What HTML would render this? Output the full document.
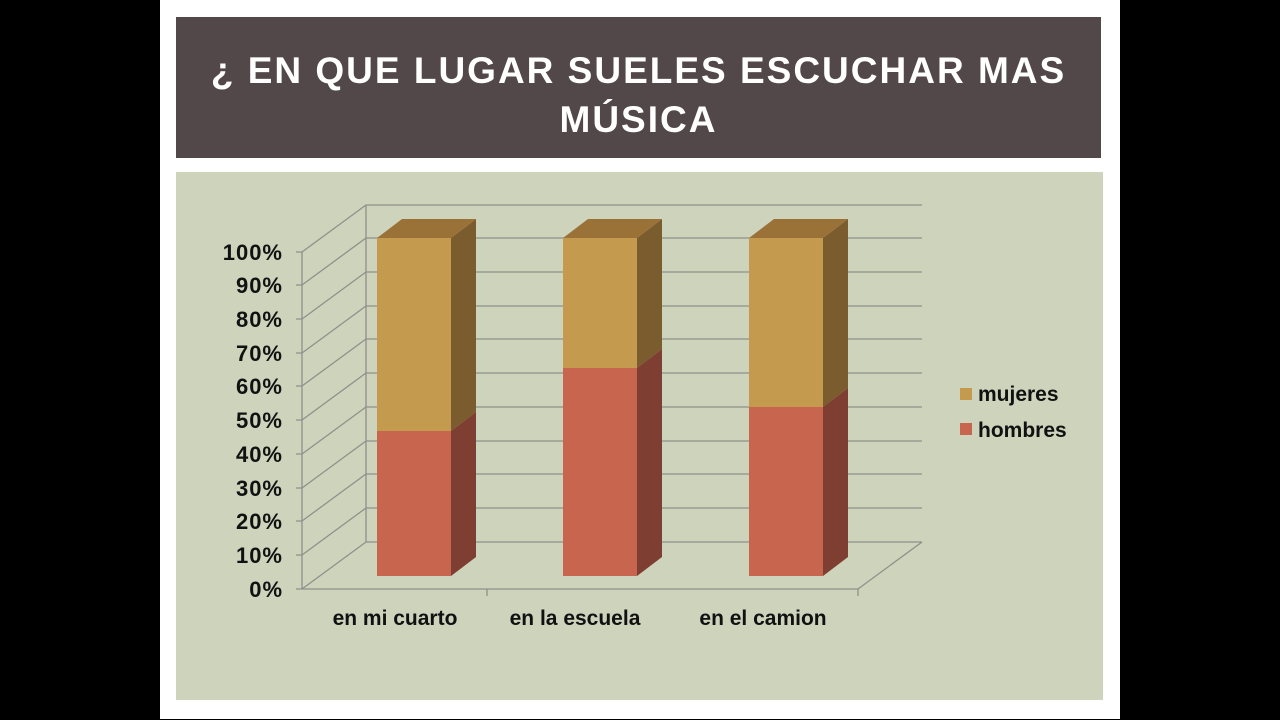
<!DOCTYPE html>
<html><head><meta charset="utf-8"><style>
body{margin:0;background:#000;width:1280px;height:720px;position:relative;overflow:hidden;font-family:"Liberation Sans",sans-serif}
#slide{position:absolute;left:160px;top:0;width:960px;height:719px;background:#fff}
#title{position:absolute;left:176px;top:17px;width:925px;height:141px;background:#524849;color:#fff;font-weight:bold;font-size:37px;letter-spacing:2px;text-align:center;line-height:49px;padding-top:29px;box-sizing:border-box}
#chart{position:absolute;left:176px;top:172px;width:927px;height:528px;background:#CED3BC}
svg{position:absolute;left:0;top:0}
</style></head><body>
<div id="slide"></div>
<div id="title">¿ EN QUE LUGAR SUELES ESCUCHAR MAS<br>MÚSICA</div>
<div id="chart"></div>
<svg width="1280" height="720" font-family="Liberation Sans, sans-serif">
<g stroke="#8E918A" stroke-width="1.3" fill="none">
<path d="M302 589L366 542H922M302 555L366 508H922M302 521L366 474H922M302 488L366 441H922M302 454L366 407H922M302 420L366 373H922M302 386L366 339H922M302 353L366 306H922M302 319L366 272H922M302 285L366 238H922M302 252L366 205H922"/>
<path d="M366 205V542M302 252V589M858 589L922 542M302 589H858"/>
<path d="M296 589H302M296 555H302M296 521H302M296 488H302M296 454H302M296 420H302M296 386H302M296 353H302M296 319H302M296 285H302M296 252H302M487 589V596M858 589V596"/>
</g>
<g>
<polygon points="451,431 476,412 476,219 451,238" fill="#7A5C2E"/>
<polygon points="451,576 476,557 476,412 451,431" fill="#7E3E31"/>
<polygon points="377,238 402,219 476,219 451,238" fill="#9A7238"/>
<rect x="377" y="238" width="74" height="193" fill="#C49A4F"/>
<rect x="377" y="431" width="74" height="145" fill="#C8654E"/>
<polygon points="637,368 662,349 662,219 637,238" fill="#7A5C2E"/>
<polygon points="637,576 662,557 662,349 637,368" fill="#7E3E31"/>
<polygon points="563,238 588,219 662,219 637,238" fill="#9A7238"/>
<rect x="563" y="238" width="74" height="130" fill="#C49A4F"/>
<rect x="563" y="368" width="74" height="208" fill="#C8654E"/>
<polygon points="823,407 848,388 848,219 823,238" fill="#7A5C2E"/>
<polygon points="823,576 848,557 848,388 823,407" fill="#7E3E31"/>
<polygon points="749,238 774,219 848,219 823,238" fill="#9A7238"/>
<rect x="749" y="238" width="74" height="169" fill="#C49A4F"/>
<rect x="749" y="407" width="74" height="169" fill="#C8654E"/>
</g>
<g font-size="22" font-weight="bold" fill="#111" text-anchor="end" letter-spacing="1">
<text x="283" y="597">0%</text><text x="283" y="563">10%</text><text x="283" y="529">20%</text><text x="283" y="496">30%</text><text x="283" y="462">40%</text><text x="283" y="428">50%</text><text x="283" y="394">60%</text><text x="283" y="361">70%</text><text x="283" y="327">80%</text><text x="283" y="293">90%</text><text x="283" y="260">100%</text>
</g>
<g font-size="21" font-weight="bold" fill="#111" text-anchor="middle">
<text x="395" y="625">en mi cuarto</text><text x="575" y="625">en la escuela</text><text x="763" y="625">en el camion</text>
</g>
<rect x="960" y="388" width="12" height="12" fill="#C49A4F"/>
<rect x="960" y="423" width="12" height="12" fill="#C8654E"/>
<g font-size="21" font-weight="bold" fill="#111"><text x="978" y="401">mujeres</text><text x="978" y="437">hombres</text></g>
</svg>
</body></html>
